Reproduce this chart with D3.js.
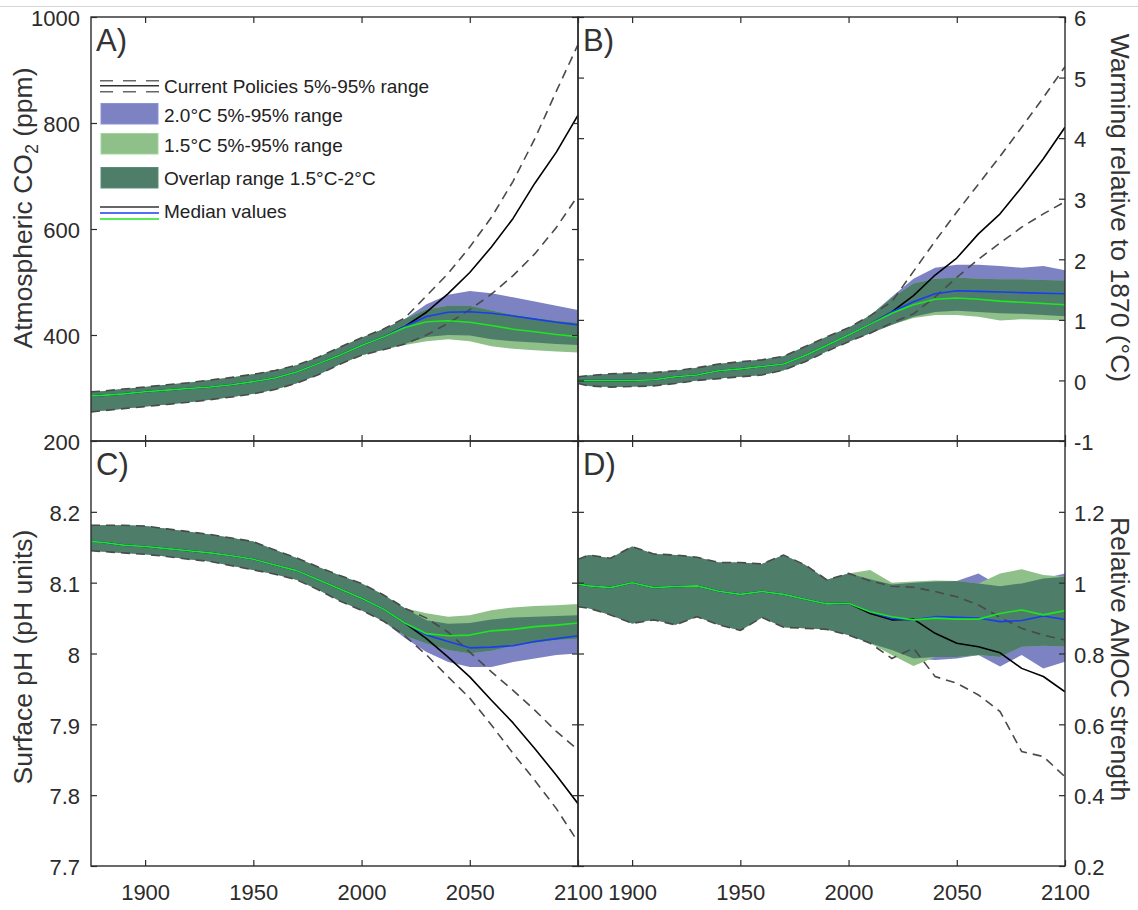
<!DOCTYPE html>
<html>
<head>
<meta charset="utf-8">
<script src="https://cdn.jsdelivr.net/npm/d3@7"></script>
<style>
  body { margin: 0; background: #fff; }
  text { font-family: "Liberation Sans", Arial, Helvetica, sans-serif; }
</style>
</head>
<body>
<svg id="chart" width="1138" height="910"></svg>
<script>
// years: history is shared by all scenarios, projections start in 2010
const yearsHist = [1875, 1880, 1890, 1900, 1910, 1920, 1930, 1940, 1950, 1960, 1970, 1980, 1990, 2000];
const yearsFut = [2010, 2020, 2030, 2040, 2050, 2060, 2070, 2080, 2090, 2100];
const xTicks = [1900, 1950, 2000, 2050, 2100];

// A) atmospheric CO2 (ppm)
const co2Ticks = [200, 400, 600, 800, 1000];
const co2HistLo = [255, 257, 261, 265, 269, 273, 278, 283, 289, 297, 309, 325, 345, 362];
const co2HistMd = [285, 286, 289, 293, 296, 299, 302, 306, 312, 319, 330, 346, 362, 380];
const co2HistHi = [293, 294, 298, 302, 306, 310, 315, 320, 326, 333, 343, 358, 377, 395];
const co2CpLo = [372, 383, 400, 422, 448, 477, 512, 553, 603, 663];
const co2CpMd = [396, 416, 443, 478, 518, 566, 620, 686, 745, 815];
const co2CpHi = [411, 432, 474, 516, 566, 622, 690, 770, 860, 948];
const co2T20Lo = [372, 383, 396, 400, 399, 392, 388, 386, 383, 381];
const co2T20Md = [396, 416, 435, 443, 444, 441, 436, 430, 424, 419];
const co2T20Hi = [411, 430, 458, 476, 483, 479, 471, 463, 455, 447];
const co2T15Lo = [372, 381, 388, 392, 388, 379, 374, 371, 369, 367];
const co2T15Md = [396, 414, 425, 427, 424, 418, 411, 406, 401, 397];
const co2T15Hi = [411, 430, 448, 455, 455, 446, 438, 432, 427, 423];

// B) warming relative to 1870 (degC)
const tmpTicks = [-1, 0, 1, 2, 3, 4, 5, 6];
const tmpHistLo = [-0.05, -0.09, -0.11, -0.10, -0.09, -0.05, 0.0, 0.03, 0.06, 0.09, 0.17, 0.31, 0.48, 0.64];
const tmpHistMd = [0.0, 0.0, 0.0, 0.0, 0.01, 0.06, 0.09, 0.16, 0.19, 0.23, 0.27, 0.41, 0.58, 0.75];
const tmpHistHi = [0.06, 0.08, 0.11, 0.12, 0.13, 0.16, 0.21, 0.27, 0.31, 0.34, 0.40, 0.56, 0.72, 0.87];
const tmpCpLo = [0.78, 0.95, 1.10, 1.38, 1.70, 2.00, 2.27, 2.53, 2.75, 2.95];
const tmpCpMd = [0.93, 1.13, 1.40, 1.74, 2.02, 2.42, 2.75, 3.19, 3.66, 4.18];
const tmpCpHi = [1.07, 1.30, 1.80, 2.30, 2.78, 3.24, 3.70, 4.18, 4.67, 5.18];
const tmpT20Lo = [0.78, 0.92, 1.05, 1.13, 1.15, 1.13, 1.11, 1.10, 1.08, 1.06];
const tmpT20Md = [0.93, 1.13, 1.30, 1.43, 1.48, 1.47, 1.46, 1.45, 1.44, 1.43];
const tmpT20Hi = [1.07, 1.38, 1.68, 1.86, 1.91, 1.91, 1.89, 1.86, 1.89, 1.82];
const tmpT15Lo = [0.78, 0.92, 1.03, 1.08, 1.08, 1.05, 0.99, 1.01, 1.00, 0.99];
const tmpT15Md = [0.93, 1.11, 1.25, 1.34, 1.36, 1.34, 1.31, 1.29, 1.27, 1.25];
const tmpT15Hi = [1.07, 1.36, 1.60, 1.68, 1.70, 1.68, 1.67, 1.67, 1.66, 1.65];

// C) surface pH
const phTicks = [7.7, 7.8, 7.9, 8.0, 8.1, 8.2];
const phHistLo = [8.145, 8.144, 8.142, 8.140, 8.137, 8.133, 8.130, 8.124, 8.118, 8.112, 8.104, 8.090, 8.074, 8.061];
const phHistMd = [8.158, 8.157, 8.153, 8.151, 8.148, 8.145, 8.142, 8.138, 8.133, 8.125, 8.117, 8.104, 8.091, 8.078];
const phHistHi = [8.181, 8.181, 8.181, 8.180, 8.176, 8.172, 8.168, 8.163, 8.158, 8.146, 8.135, 8.122, 8.110, 8.099];
const phCpLo = [8.046, 8.025, 7.998, 7.967, 7.937, 7.899, 7.859, 7.821, 7.781, 7.734];
const phCpMd = [8.063, 8.043, 8.021, 7.995, 7.967, 7.934, 7.902, 7.866, 7.828, 7.788];
const phCpHi = [8.083, 8.064, 8.050, 8.030, 8.002, 7.974, 7.948, 7.920, 7.890, 7.864];
const phT20Lo = [8.046, 8.022, 8.002, 7.988, 7.981, 7.981, 7.988, 7.993, 7.998, 8.000];
const phT20Md = [8.063, 8.043, 8.026, 8.017, 8.008, 8.009, 8.011, 8.017, 8.021, 8.025];
const phT20Hi = [8.083, 8.064, 8.047, 8.042, 8.043, 8.048, 8.051, 8.052, 8.053, 8.054];
const phT15Lo = [8.046, 8.025, 8.014, 8.005, 8.000, 8.004, 8.011, 8.015, 8.019, 8.021];
const phT15Md = [8.063, 8.043, 8.028, 8.025, 8.026, 8.032, 8.034, 8.038, 8.040, 8.043];
const phT15Hi = [8.083, 8.064, 8.057, 8.052, 8.054, 8.061, 8.065, 8.067, 8.068, 8.070];

// D) relative AMOC strength
const amocTicks = [0.2, 0.4, 0.6, 0.8, 1.0, 1.2];
const amocHistLo = [0.932, 0.928, 0.909, 0.885, 0.895, 0.881, 0.904, 0.881, 0.865, 0.902, 0.874, 0.871, 0.868, 0.852];
const amocHistMd = [0.996, 0.991, 0.986, 1.000, 0.986, 0.989, 0.991, 0.976, 0.967, 0.975, 0.967, 0.953, 0.940, 0.942];
const amocHistHi = [1.066, 1.078, 1.069, 1.102, 1.081, 1.078, 1.072, 1.057, 1.057, 1.053, 1.078, 1.050, 1.008, 1.026];
const amocCpLo = [0.829, 0.786, 0.815, 0.735, 0.716, 0.683, 0.636, 0.523, 0.509, 0.452];
const amocCpMd = [0.913, 0.895, 0.897, 0.857, 0.829, 0.819, 0.802, 0.758, 0.735, 0.692];
const amocCpHi = [1.005, 0.990, 0.987, 0.975, 0.960, 0.937, 0.902, 0.871, 0.852, 0.838];
const amocT20Lo = [0.829, 0.810, 0.786, 0.782, 0.786, 0.796, 0.763, 0.796, 0.758, 0.777];
const amocT20Md = [0.918, 0.899, 0.895, 0.904, 0.902, 0.900, 0.890, 0.893, 0.906, 0.896];
const amocT20Hi = [1.010, 0.995, 1.000, 1.003, 1.005, 1.026, 0.990, 0.998, 1.012, 1.026];
const amocT15Lo = [0.829, 0.796, 0.765, 0.790, 0.790, 0.795, 0.790, 0.819, 0.822, 0.820];
const amocT15Md = [0.918, 0.904, 0.895, 0.900, 0.897, 0.897, 0.913, 0.923, 0.909, 0.921];
const amocT15Hi = [1.036, 1.000, 1.003, 1.006, 1.005, 0.998, 1.026, 1.038, 1.022, 1.017];

const width = 1138, height = 910;
const colL = 91, colM = 578, colR = 1065;
const rowT = 17, rowM = 441, rowB = 866;

const col = {
  band20: "#7d82c2", band15: "#8fc08a", overlap: "#4e7e6a",
  dash: "#4a4a4a", cp: "#000000", md20: "#1a3cf2", md15: "#1ee61e",
  axis: "#2b2b2b"
};
const fontFam = '"Liberation Sans", Arial, Helvetica, sans-serif';

const panels = [
  { id: "A", x0: colL, x1: colM, y0: rowT, y1: rowM, domain: [200, 1000], ticks: co2Ticks, side: "left", xlab: false,
    hist: { lo: co2HistLo, md: co2HistMd, hi: co2HistHi },
    cp: { lo: co2CpLo, md: co2CpMd, hi: co2CpHi },
    t20: { lo: co2T20Lo, md: co2T20Md, hi: co2T20Hi },
    t15: { lo: co2T15Lo, md: co2T15Md, hi: co2T15Hi } },
  { id: "B", x0: colM, x1: colR, y0: rowT, y1: rowM, domain: [-1, 6], ticks: tmpTicks, side: "right", xlab: false,
    hist: { lo: tmpHistLo, md: tmpHistMd, hi: tmpHistHi },
    cp: { lo: tmpCpLo, md: tmpCpMd, hi: tmpCpHi },
    t20: { lo: tmpT20Lo, md: tmpT20Md, hi: tmpT20Hi },
    t15: { lo: tmpT15Lo, md: tmpT15Md, hi: tmpT15Hi } },
  { id: "C", x0: colL, x1: colM, y0: rowM, y1: rowB, domain: [7.7, 8.3], ticks: phTicks, side: "left", xlab: true,
    hist: { lo: phHistLo, md: phHistMd, hi: phHistHi },
    cp: { lo: phCpLo, md: phCpMd, hi: phCpHi },
    t20: { lo: phT20Lo, md: phT20Md, hi: phT20Hi },
    t15: { lo: phT15Lo, md: phT15Md, hi: phT15Hi } },
  { id: "D", x0: colM, x1: colR, y0: rowM, y1: rowB, domain: [0.2, 1.4], ticks: amocTicks, side: "right", xlab: true,
    hist: { lo: amocHistLo, md: amocHistMd, hi: amocHistHi },
    cp: { lo: amocCpLo, md: amocCpMd, hi: amocCpHi },
    t20: { lo: amocT20Lo, md: amocT20Md, hi: amocT20Hi },
    t15: { lo: amocT15Lo, md: amocT15Md, hi: amocT15Hi } }
];

const svg = d3.select("#chart").attr("viewBox", [0, 0, width, height]);

// thin rule at the very top of the page
svg.append("line")
  .attr("x1", 0).attr("x2", width).attr("y1", 6.5).attr("y2", 6.5)
  .attr("stroke", "#d6d6d6").attr("stroke-width", 1);

const fmtNum = d => String(+d.toFixed(1));

function drawPanel(p) {
  const years = yearsHist.concat(yearsFut);
  const x = d3.scaleLinear().domain([1875, 2100]).range([p.x0, p.x1]);
  const y = d3.scaleLinear().domain(p.domain).range([p.y1, p.y0]);

  const full = key => ({
    lo: p.hist.lo.concat(p[key].lo),
    md: p.hist.md.concat(p[key].md),
    hi: p.hist.hi.concat(p[key].hi)
  });
  const cp = full("cp"), s20 = full("t20"), s15 = full("t15");

  const band = s => years.map((yr, i) => ({ yr, lo: s.lo[i], hi: s.hi[i] }));
  const overlap = years.map((yr, i) => ({
    yr,
    lo: Math.max(s15.lo[i], s20.lo[i]),
    hi: Math.min(s15.hi[i], s20.hi[i])
  }));
  const pts = arr => years.map((yr, i) => ({ yr, v: arr[i] }));

  const area = d3.area().x(d => x(d.yr)).y0(d => y(d.lo)).y1(d => y(d.hi));
  const line = d3.line().x(d => x(d.yr)).y(d => y(d.v));

  const clipId = "clip" + p.id;
  svg.append("clipPath").attr("id", clipId)
    .append("rect")
    .attr("x", p.x0).attr("y", p.y0)
    .attr("width", p.x1 - p.x0).attr("height", p.y1 - p.y0);

  const plot = svg.append("g").attr("clip-path", `url(#${clipId})`);

  plot.append("path").datum(band(s20)).attr("d", area).attr("fill", col.band20);
  plot.append("path").datum(band(s15)).attr("d", area).attr("fill", col.band15);
  plot.append("path").datum(overlap).attr("d", area).attr("fill", col.overlap);

  [cp.lo, cp.hi].forEach(arr => {
    plot.append("path").datum(pts(arr)).attr("d", line)
      .attr("fill", "none").attr("stroke", col.dash)
      .attr("stroke-width", 1.6).attr("stroke-dasharray", "9,6");
  });

  [[cp.md, col.cp], [s20.md, col.md20], [s15.md, col.md15]].forEach(([arr, c]) => {
    plot.append("path").datum(pts(arr)).attr("d", line)
      .attr("fill", "none").attr("stroke", c)
      .attr("stroke-width", 1.6).attr("stroke-linejoin", "round");
  });

  // box with inward ticks on all four sides
  const styleAxis = g => g
    .attr("font-size", 22)
    .attr("font-family", fontFam)
    .attr("color", col.axis)
    .call(g => g.select(".domain").remove())
    .call(g => g.selectAll(".tick line").attr("stroke-width", 1.2));

  const lab = p.side === "left";
  svg.append("g")
    .attr("transform", `translate(${p.x0},0)`)
    .call(d3.axisLeft(y).tickValues(p.ticks).tickSize(-6).tickSizeOuter(0)
      .tickPadding(11).tickFormat(lab ? fmtNum : ""))
    .call(styleAxis)
    .call(g => g.selectAll("text").attr("dy", "0.4em"));

  svg.append("g")
    .attr("transform", `translate(${p.x1},0)`)
    .call(d3.axisRight(y).tickValues(p.ticks).tickSize(-6).tickSizeOuter(0)
      .tickPadding(9).tickFormat(lab ? "" : fmtNum))
    .call(styleAxis)
    .call(g => g.selectAll("text").attr("dy", "0.4em"));

  svg.append("g")
    .attr("transform", `translate(0,${p.y1})`)
    .call(d3.axisBottom(x).tickValues(xTicks).tickSize(-6).tickSizeOuter(0)
      .tickPadding(18).tickFormat(p.xlab ? d3.format("d") : ""))
    .call(styleAxis);

  svg.append("g")
    .attr("transform", `translate(0,${p.y0})`)
    .call(d3.axisTop(x).tickValues(xTicks).tickSize(-6).tickSizeOuter(0).tickFormat(""))
    .call(styleAxis);

  svg.append("rect")
    .attr("x", p.x0).attr("y", p.y0)
    .attr("width", p.x1 - p.x0).attr("height", p.y1 - p.y0)
    .attr("fill", "none").attr("stroke", col.axis).attr("stroke-width", 1.4);

  svg.append("text")
    .attr("x", p.x0 + 5).attr("y", p.y0 + 34)
    .attr("font-size", 31).attr("fill", "#333")
    .text(p.id + ")");
}

panels.forEach(drawPanel);

// axis titles
const titles = svg.append("g").attr("font-size", 26.5).attr("fill", "#333").attr("text-anchor", "middle");

const tA = titles.append("text").attr("transform", "translate(32,208) rotate(-90)");
tA.append("tspan").text("Atmospheric CO");
tA.append("tspan").attr("font-size", 18).attr("dy", 6).text("2");
tA.append("tspan").attr("dy", -6).text(" (ppm)");

titles.append("text").attr("transform", "translate(32,657) rotate(-90)")
  .text("Surface pH (pH units)");
titles.append("text").attr("transform", "translate(1111,208) rotate(90)")
  .text("Warming relative to 1870 (°C)");
titles.append("text").attr("transform", "translate(1111,659) rotate(90)")
  .text("Relative AMOC strength");

// legend in panel A
const leg = svg.append("g").attr("font-size", 19).attr("fill", "#222");
const symX0 = 100, symX1 = 159, txtX = 164;

[[80.7, "#666", "13,10"], [85.7, "#333", null], [91.7, "#666", "13,10"]].forEach(([yy, c, da]) => {
  leg.append("line").attr("x1", symX0).attr("x2", symX1).attr("y1", yy).attr("y2", yy)
    .attr("stroke", c).attr("stroke-width", 1.6).attr("stroke-dasharray", da);
});
leg.append("text").attr("x", txtX).attr("y", 93).text("Current Policies 5%-95% range");

[[103.5, col.band20, "2.0°C 5%-95% range", 121.5],
 [133.5, col.band15, "1.5°C 5%-95% range", 151.5],
 [167.5, col.overlap, "Overlap range 1.5°C-2°C", 185]].forEach(([yy, c, label, base]) => {
  leg.append("rect").attr("x", symX0 + 1).attr("y", yy).attr("width", 57).attr("height", 20.5)
    .attr("fill", c).attr("stroke", d3.color(c).brighter(0.3)).attr("stroke-width", 1);
  leg.append("text").attr("x", txtX).attr("y", base).text(label);
});

[[207, "#333"], [213, col.md20], [219, col.md15]].forEach(([yy, c]) => {
  leg.append("line").attr("x1", symX0).attr("x2", symX1).attr("y1", yy).attr("y2", yy)
    .attr("stroke", c).attr("stroke-width", 1.6);
});
leg.append("text").attr("x", txtX).attr("y", 218).text("Median values");
</script>
</body>
</html>
